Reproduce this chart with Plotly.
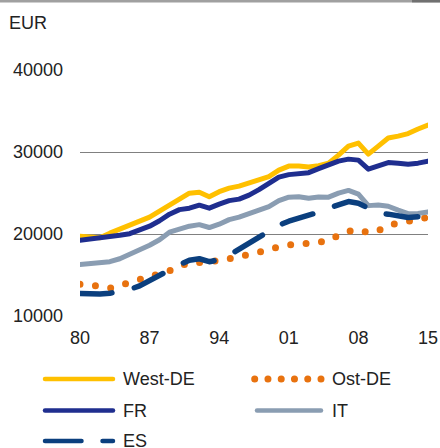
import plotly.graph_objects as go

years = list(range(1980, 2016))

west_de = [19730, 19610, 19550, 20100, 20590, 21200, 21680, 22050, 22780, 23520,
           24250, 24980, 25100, 24550, 25160, 25590, 25840, 26260, 26570, 27000,
           27790, 28280, 28280, 28160, 28340, 28640, 29620, 30720, 31090, 29740,
           30720, 31700, 31940, 32250, 32800, 33290]

ost_de = [13870, 13830, 13630, 13380, 13750, 14110, 14380, 14730, 15030, 15520,
          16070, 16500, 16520, 16600, 16740, 16980, 17230, 17470, 17780, 18050,
          18450, 18750, 18840, 18840, 18940, 19180, 19860, 20340, 20550, 20160,
          20400, 21070, 21320, 21480, 21770, 22050]

fr = [19240, 19370, 19550, 19730, 19850, 20040, 20460, 20950, 21620, 22420,
      22970, 23150, 23520, 23150, 23640, 24070, 24250, 24740, 25410, 26140,
      26940, 27240, 27360, 27480, 27970, 28400, 28890, 29130, 29010, 27910,
      28280, 28710, 28640, 28520, 28640, 28890]

it = [16280, 16370, 16500, 16620, 16980, 17470, 18080, 18630, 19300, 20220,
      20650, 20950, 21140, 20790, 21200, 21750, 22050, 22480, 22910, 23330,
      24070, 24490, 24550, 24370, 24520, 24490, 24980, 25310, 24860, 23460,
      23540, 23390, 22910, 22480, 22500, 22700]

es = [12730, 12650, 12670, 12770, 12950, 13250, 13680, 14350, 14960, 15640,
      16250, 16800, 16980, 16620, 16860, 17410, 18140, 18880, 19730, 20400,
      21070, 21560, 21870, 22300, 22660, 23150, 23640, 23960, 23760, 23090,
      22540, 22420, 22170, 22010, 22110, 22300]

x_tick_vals = [1980, 1987, 1994, 2001, 2008, 2015]
x_tick_labels = ["80", "87", "94", "01", "08", "15"]
y_tick_vals = [10000, 20000, 30000, 40000]
y_tick_labels = ["10000", "20000", "30000", "40000"]

series_names = ["West-DE", "Ost-DE", "FR", "IT", "ES"]
series_values = [west_de, ost_de, fr, it, es]
series_colors = ["#FFC000", "#E8720F", "#1F2E8F", "#8A9DB2", "#0B3F7E"]
series_dash = ["solid", "0px,15.5px", "solid", "solid", "32px,23px"]
series_width = [5, 7, 5, 5, 5.5]
legend_dash = ["solid", "0px,13.26px", "solid", "solid", "36.5px,21px"]
legend_width = [4.5, 7, 4.5, 4.5, 4.5]

W, H = 440, 448
L, R, T, B = 80, 12, 69, 131
PW, PH = W - L - R, H - T - B
# one pixel of value above/below the outer gridlines so they are drawn
Y_PAD = 30000 / 246.0
y_range = [10000 - Y_PAD, 40000 + Y_PAD]


def px(xp):
    return (xp - L) / PW


def py(yp):
    return (H - B - yp) / PH


fig = go.Figure()
for name, vals, color, dash, width in zip(series_names, series_values,
                                          series_colors, series_dash, series_width):
    fig.add_trace(go.Scatter(x=years, y=vals, name=name, mode="lines",
                             line=dict(color=color, width=width, dash=dash),
                             showlegend=False, hoverinfo="skip"))

font = "Liberation Sans, Arial, sans-serif"
txt = "#222222"

# manual legend layout: (line start, line end, text x, row y) in pixels
legend_slots = [(45, 113, 121, 379), (254.7, 321.5, 330, 379),
                (45, 113, 121, 410.5), (257, 321, 330, 410.5),
                (45, 113, 121, 441)]

shapes = [
    dict(type="rect", xref="paper", yref="paper", x0=px(0), x1=px(412),
         y0=py(0), y1=py(2.6), fillcolor="#A0A0A0", line=dict(width=0)),
    dict(type="rect", xref="paper", yref="paper", x0=px(412), x1=px(440),
         y0=py(0), y1=py(2.6), fillcolor="#707070", line=dict(width=0)),
]
annotations = [dict(text="EUR", xref="paper", yref="paper", x=px(7), y=py(23),
                    xanchor="left", yanchor="middle", showarrow=False,
                    font=dict(size=18, color=txt, family=font))]

for (x0, x1, tx, ry), name, color, dash, width in zip(legend_slots, series_names,
                                                     series_colors, legend_dash,
                                                     legend_width):
    shapes.append(dict(type="line", xref="paper", yref="paper", x0=px(x0), x1=px(x1),
                       y0=py(ry), y1=py(ry),
                       line=dict(color=color, width=width, dash=dash)))
    annotations.append(dict(text=name, xref="paper", yref="paper", x=px(tx), y=py(ry),
                            xanchor="left", yanchor="middle", showarrow=False,
                            font=dict(size=18, color=txt, family=font)))

fig.update_layout(
    width=W, height=H,
    margin=dict(l=L, r=R, t=T, b=B, autoexpand=False),
    plot_bgcolor="white", paper_bgcolor="white",
    font=dict(family=font, size=18, color=txt),
    showlegend=False,
    hovermode=False,
    xaxis=dict(range=[1980, 2015], tickmode="array", tickvals=x_tick_vals,
               ticktext=x_tick_labels, showgrid=False, zeroline=False,
               showline=False, ticks="", ticklabelstandoff=8, tickangle=0),
    yaxis=dict(range=y_range, tickmode="array", tickvals=y_tick_vals,
               ticktext=y_tick_labels, showgrid=True, gridcolor="#808080",
               gridwidth=1, zeroline=False, showline=False, ticks="",
               ticklabelstandoff=16),
    shapes=shapes,
    annotations=annotations,
)

js = """
document.body.style.margin = '0';
document.body.style.overflow = 'hidden';
var gd = document.getElementById('{plot_id}');
function fixCaps(){
  document.querySelectorAll('path.js-line, .shapelayer path').forEach(function(p){
    if (p.getAttribute('fill-rule') === null && p.style.fill && p.style.fill !== 'none') return;
    p.style.strokeLinecap = 'round';
    p.style.strokeLinejoin = 'round';
  });
}
fixCaps();
gd.on('plotly_afterplot', fixCaps);
"""

fig.write_html("out.html", post_script=js,
               config={"displayModeBar": False, "staticPlot": True})
